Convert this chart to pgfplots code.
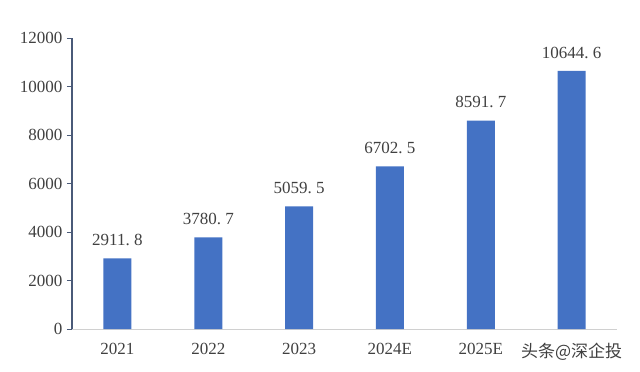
\documentclass[border=0pt]{standalone}
\usepackage{pgfplots}
\pgfplotsset{compat=1.18}
\usepackage{fontspec}
\setmainfont{Liberation Serif}
\newfontfamily\cjk{Noto Sans CJK SC}
\definecolor{barblue}{HTML}{4472C4}
\definecolor{txt}{HTML}{404040}
\definecolor{yaxis}{HTML}{4A5A78}
\definecolor{xaxis}{HTML}{D0D0D0}
\begin{document}
\begin{tikzpicture}
\begin{axis}[
  scale only axis, width=545pt, height=291pt,
  xmin=-0.5, xmax=5.5, ymin=0, ymax=12000,
  ytick={0,2000,...,12000},
  xtick={0,...,5},
  xticklabels={2021,2022,2023,2024E,2025E,{\cjk 头条@深企投}},
  axis x line=bottom, axis y line=left,
  axis line style={-},
  x axis line style={draw=xaxis, line width=0.8pt},
  y axis line style={draw=yaxis, line width=1pt},
  ytick style={draw=yaxis, line width=0.8pt},
  xtick style={draw=none},
  tick align=outside, major tick length=5pt,
  scaled y ticks=false,
  yticklabel style={xshift=-1pt},
  /pgf/number format/fixed,
  /pgf/number format/1000 sep={},
  /pgf/number format/assume math mode=true,
  tick label style={font=\fontsize{17}{20}\selectfont, text=txt},
  xticklabel style={yshift=-6pt},
  ybar, bar width=28pt,
  point meta=explicit symbolic,
  nodes near coords,
  every node near coord/.append style={font=\fontsize{17}{20}\selectfont, text=txt, yshift=9pt},
]
\addplot[fill=barblue, draw=none] table[meta=lab] {
x y lab
0 2911.8 2911.\hspace{0.25em}8
1 3780.7 3780.\hspace{0.25em}7
2 5059.5 5059.\hspace{0.25em}5
3 6702.5 6702.\hspace{0.25em}5
4 8591.7 8591.\hspace{0.25em}7
5 10644.6 10644.\hspace{0.25em}6
};
\end{axis}
\path (current axis.south west) ++(-72pt,-42pt) rectangle ([xshift=23pt,yshift=38pt]current axis.north east);
\end{tikzpicture}
\end{document}
